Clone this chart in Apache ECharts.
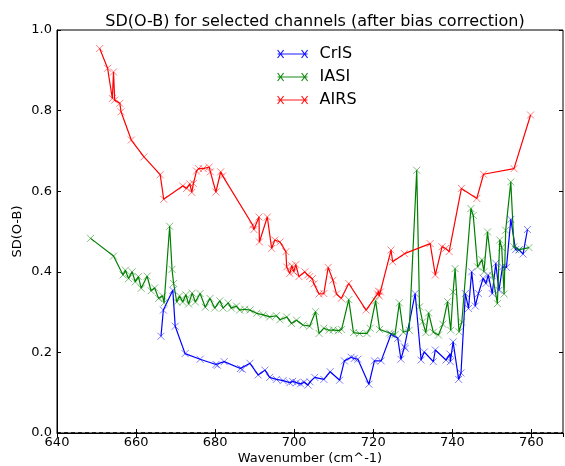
<!DOCTYPE html>
<html>
<head>
<meta charset="utf-8">
<script src="https://cdn.jsdelivr.net/npm/echarts@6/dist/echarts.min.js"></script>
<style>
	html,body{margin:0;padding:0;background:#fff;}
	#chart{width:565px;height:466px;}
</style>
</head>
<body>
<div id="chart"></div>
<script type="text/javascript">
    // wavenumber / SD(O-B) pairs
    var cris_x = [666.3,666.9,669.3,669.9,672.4,676.2,680.2,680.6,682.3,686.4,686.9,688.8,690.9,692.6,693.8,695.5,697.2,698.9,699.6,700.6,701.6,702.5,703.5,704.0,705.2,707.5,709.1,711.5,712.7,714.4,715.2,716.1,718.9,720.3,722.0,724.5,726.2,727.0,727.9,728.1,730.6,732.1,732.9,735.2,735.7,738.4,739.4,739.5,740.2,741.6,742.2,743.3,744.1,744.9,745.8,746.6,747.8,748.5,749.1,750.1,751.0,751.8,752.7,753.7,754.8,756.0,756.9,757.9,759.0];
    var cris_y = [0.240,0.305,0.354,0.265,0.197,0.183,0.170,0.168,0.177,0.160,0.158,0.173,0.144,0.156,0.138,0.133,0.130,0.125,0.128,0.125,0.122,0.126,0.119,0.127,0.138,0.133,0.152,0.131,0.179,0.188,0.185,0.183,0.121,0.179,0.179,0.245,0.235,0.183,0.214,0.210,0.346,0.181,0.201,0.177,0.206,0.181,0.196,0.177,0.226,0.133,0.149,0.346,0.309,0.400,0.315,0.346,0.384,0.371,0.392,0.346,0.421,0.354,0.412,0.411,0.530,0.455,0.454,0.444,0.505];

    var iasi_x = [648.5,654.3,656.7,657.3,658.1,659.0,659.8,660.6,661.3,662.8,663.8,664.7,665.7,666.7,667.1,668.5,669.1,669.5,670.3,671.0,671.8,672.6,673.3,674.2,675.0,676.2,677.5,678.7,679.9,681.2,682.0,683.3,684.1,685.4,686.2,687.5,688.8,690.5,692.2,693.8,695.5,696.4,698.1,699.3,700.6,702.2,703.9,705.4,706.3,707.5,708.8,709.9,711.2,712.0,713.8,715.0,716.5,718.4,719.2,720.6,721.6,724.1,725.5,726.6,727.6,729.1,731.0,731.7,732.5,733.3,734.0,735.2,736.5,737.6,738.8,739.6,740.2,740.7,741.7,742.4,744.7,745.3,746.4,747.5,748.0,748.9,750.2,751.4,752.0,752.5,753.1,753.5,754.8,755.6,756.9,759.4];
    var iasi_y = [0.483,0.439,0.392,0.404,0.383,0.400,0.375,0.388,0.359,0.389,0.353,0.360,0.334,0.340,0.323,0.513,0.406,0.371,0.325,0.340,0.325,0.343,0.320,0.347,0.325,0.346,0.312,0.334,0.310,0.328,0.310,0.323,0.310,0.315,0.305,0.307,0.305,0.297,0.293,0.288,0.291,0.281,0.288,0.272,0.280,0.268,0.265,0.301,0.247,0.260,0.255,0.256,0.254,0.257,0.331,0.249,0.247,0.247,0.260,0.328,0.257,0.248,0.244,0.323,0.250,0.255,0.652,0.313,0.276,0.249,0.298,0.250,0.243,0.270,0.326,0.255,0.350,0.408,0.251,0.275,0.557,0.540,0.412,0.430,0.400,0.499,0.390,0.321,0.479,0.460,0.345,0.503,0.623,0.462,0.455,0.460];

    var airs_x = [650.8,652.8,654.0,654.3,654.6,655.9,656.2,658.8,662.0,666.1,667.0,671.8,672.8,673.6,674.1,674.5,675.3,675.8,677.0,678.5,678.8,680.2,681.4,681.9,689.5,689.8,691.1,691.2,693.2,694.3,695.1,696.4,697.9,698.1,698.9,699.4,699.9,700.4,701.2,702.7,703.4,703.9,704.6,705.0,706.3,707.5,708.6,709.8,710.7,711.9,713.8,718.2,721.1,721.3,721.5,721.8,724.5,724.9,727.9,734.4,735.7,737.4,738.3,739.2,742.3,746.2,747.9,755.6,759.8];
    var airs_y = [0.954,0.905,0.830,0.896,0.826,0.818,0.797,0.727,0.685,0.641,0.580,0.613,0.607,0.618,0.597,0.619,0.650,0.656,0.656,0.660,0.648,0.598,0.648,0.638,0.516,0.505,0.536,0.474,0.536,0.458,0.479,0.474,0.450,0.412,0.396,0.415,0.400,0.418,0.388,0.400,0.392,0.388,0.383,0.370,0.345,0.346,0.411,0.379,0.345,0.334,0.371,0.305,0.345,0.352,0.340,0.350,0.454,0.425,0.445,0.470,0.392,0.462,0.458,0.450,0.607,0.582,0.642,0.656,0.789];

    function pairs(xs, ys){
        var out = [];
        for (var i = 0; i < xs.length; i++) out.push([xs[i], ys[i]]);
        return out;
    }

    var xmark = 'path://M0,0L10,10M10,0L0,10';
    var font = 'DejaVu Sans';

    function mkSeries(name, color, xs, ys){
        return {
            name: name,
            type: 'line',
            data: pairs(xs, ys),
            symbol: xmark,
            symbolSize: 7,
            showAllSymbol: true,
            itemStyle: {color: color, borderColor: color, borderWidth: 1, opacity: 0.5},
            lineStyle: {color: color, width: 1.2},
            emphasis: {disabled: true},
            animation: false
        };
    }

    var series = [
        mkSeries('CrIS', '#0000ff', cris_x, cris_y),
        mkSeries('IASI', '#008000', iasi_x, iasi_y),
        mkSeries('AIRS', '#ff0000', airs_x, airs_y)
    ];
    // dashed zero line
    series[0].markLine = {
        silent: true,
        symbol: 'none',
        label: {show: false},
        lineStyle: {color: '#000', type: [4, 3], width: 1.5},
        data: [{yAxis: 0}]
    };

    var tickStyle = {inside: true, length: 4, lineStyle: {color: '#000'}};

    var myChart = echarts.init(document.getElementById('chart'));
    var option = {
        backgroundColor: '#fff',
        animation: false,
        title: {
            text: 'SD(O-B) for selected channels (after bias correction)',
            left: 310, top: 9, textAlign: 'center',
            textStyle: {fontFamily: font, fontSize: 16, fontWeight: 'normal', color: '#000'}
        },
        legend: {
            data: ['CrIS', 'IASI', 'AIRS'],
            orient: 'vertical',
            left: 272, top: 41,
            icon: 'path://M0,5L30,5M0,1L6,9M0,9L6,1M24,1L30,9M24,9L30,1',
            itemWidth: 30, itemHeight: 9,
            itemGap: 7,
            textStyle: {fontFamily: font, fontSize: 16, color: '#000', padding: [0, 0, 0, 7]},
            itemStyle: {borderWidth: 1.2, opacity: 0.9}
        },
        grid: {
            left: 57, right: 2, top: 30, bottom: 33,
            show: true, borderColor: '#000', borderWidth: 1,
            containLabel: false,
            outerBoundsMode: 'none'
        },
        xAxis: [{
            type: 'value', min: 640, max: 768, interval: 20,
            name: 'Wavenumber (cm^-1)', nameLocation: 'middle', nameGap: 19,
            nameMoveOverlap: false,
            nameTextStyle: {fontFamily: font, fontSize: 13, color: '#000'},
            axisLine: {show: true, lineStyle: {color: '#000'}},
            axisTick: tickStyle,
            axisLabel: {fontFamily: font, fontSize: 13, color: '#000', margin: 3, showMaxLabel: false},
            splitLine: {show: false}
        }, {
            type: 'value', min: 640, max: 768, interval: 20, position: 'top',
            axisLine: {show: false}, axisTick: tickStyle,
            axisLabel: {show: false}, splitLine: {show: false}
        }],
        yAxis: [{
            type: 'value', min: 0, max: 1, interval: 0.2,
            name: 'SD(O-B)', nameLocation: 'middle', nameGap: 33, nameRotate: 90,
            nameMoveOverlap: false,
            nameTextStyle: {fontFamily: font, fontSize: 13, color: '#000'},
            axisLine: {show: true, lineStyle: {color: '#000'}},
            axisTick: tickStyle,
            axisLabel: {fontFamily: font, fontSize: 13, color: '#000', margin: 5,
                formatter: function(v){ return v.toFixed(1); }},
            splitLine: {show: false}
        }, {
            type: 'value', min: 0, max: 1, interval: 0.2, position: 'right',
            axisLine: {show: false}, axisTick: tickStyle,
            axisLabel: {show: false}, splitLine: {show: false}
        }],
        series: series
    };
    myChart.setOption(option);
</script>
</body>
</html>
